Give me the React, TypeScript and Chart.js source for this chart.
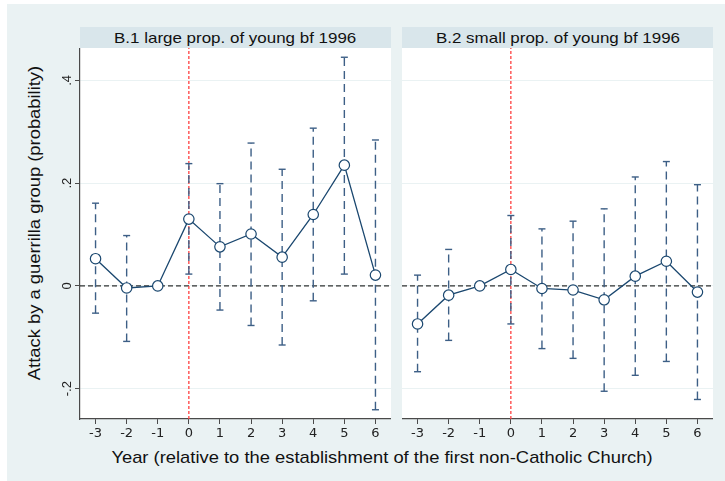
import React, { useEffect, useRef } from "react";
import { Chart, registerables } from "chart.js";

Chart.register(...registerables);

// ---- data ----
const years = [-3, -2, -1, 0, 1, 2, 3, 4, 5, 6];
const xTickLabels = ["-3", "-2", "-1", "0", "1", "2", "3", "4", "5", "6"];
const yTickValues = [-0.2, 0, 0.2, 0.4];
const yTickLabels = ["-.2", "0", ".2", ".4"];

const b1Coef = [0.053, -0.004, 0, 0.13, 0.076, 0.101, 0.056, 0.139, 0.235, 0.021];
const b1Upper = [0.161, 0.098, null, 0.238, 0.199, 0.278, 0.227, 0.307, 0.445, 0.284];
const b1Lower = [-0.053, -0.108, null, 0.023, -0.047, -0.077, -0.115, -0.029, 0.023, -0.241];

const b2Coef = [-0.074, -0.018, 0, 0.032, -0.005, -0.008, -0.027, 0.019, 0.048, -0.012];
const b2Upper = [0.021, 0.071, null, 0.137, 0.111, 0.126, 0.15, 0.212, 0.242, 0.197];
const b2Lower = [-0.167, -0.106, null, -0.074, -0.122, -0.141, -0.205, -0.174, -0.147, -0.221];

const panelTitles = ["B.1 large prop. of young bf 1996", "B.2 small prop. of young bf 1996"];
const yTitle = "Attack by a guerrilla group (probability)";
const xTitle = "Year (relative to the establishment of the first non-Catholic Church)";

const X_MIN = -3.5;
const X_MAX = 6.5;
const Y_MIN = -0.259;
const Y_MAX = 0.463;

const FONT = "'Liberation Sans', Arial, Helvetica, sans-serif";
const TICK_FONT = "'DejaVu Sans', 'Liberation Sans', sans-serif";
const BG = "#eaf2f3";
const STRIP = "#d9e6eb";
const NAVY = "#1a476f";
const CI_COLOR = "#3d5f86";
const AXIS = "#4a4a4a";

const plotBg = {
  id: "plotBg",
  beforeDraw(chart: any) {
    const { ctx, chartArea: a } = chart;
    ctx.save();
    ctx.fillStyle = "#ffffff";
    ctx.fillRect(a.left, a.top, a.right - a.left, a.bottom - a.top);
    ctx.restore();
  },
};

function noPad(s: any) {
  s.paddingLeft = 0;
  s.paddingRight = 0;
  s.paddingTop = 0;
  s.paddingBottom = 0;
}

function Panel(props: {
  coef: number[];
  upper: (number | null)[];
  lower: (number | null)[];
  showY: boolean;
  width: number;
  height: number;
  style: React.CSSProperties;
}) {
  const ref = useRef<HTMLCanvasElement>(null);
  useEffect(() => {
    const { coef, upper, lower, showY } = props;
    const ciData: any[] = [];
    years.forEach((x, i) => {
      if (upper[i] !== null && lower[i] !== null) {
        ciData.push({ x, y: lower[i] });
        ciData.push({ x, y: upper[i] });
      }
      ciData.push({ x, y: null });
    });
    const chart = new Chart(ref.current as HTMLCanvasElement, {
      type: "scatter",
      data: {
        datasets: [
          {
            data: years.map((x, i) => ({ x, y: coef[i] })),
            showLine: true,
            borderColor: NAVY,
            borderWidth: 1.3,
            pointRadius: 5.2,
            pointBackgroundColor: "#ffffff",
            pointBorderColor: NAVY,
            pointBorderWidth: 1.2,
            order: 1,
          },
          {
            data: ciData,
            showLine: true,
            spanGaps: false,
            borderColor: CI_COLOR,
            borderWidth: 1.4,
            borderDash: [8, 5],
            pointStyle: "line",
            pointRadius: 3.5,
            pointBorderColor: CI_COLOR,
            pointBorderWidth: 1.4,
            order: 2,
          },
          {
            data: [
              { x: 0, y: Y_MIN },
              { x: 0, y: Y_MAX },
            ],
            showLine: true,
            borderColor: "#ff4040",
            borderWidth: 1.3,
            borderDash: [3, 2],
            pointRadius: 0,
            order: 3,
          },
          {
            data: [
              { x: X_MIN, y: 0 },
              { x: X_MAX, y: 0 },
            ],
            showLine: true,
            borderColor: "#000000",
            borderWidth: 1,
            borderDash: [5, 3],
            pointRadius: 0,
            order: 4,
          },
        ],
      },
      options: {
        animation: false,
        responsive: false,
        devicePixelRatio: 1,
        events: [],
        layout: { padding: 0, autoPadding: false },
        plugins: {
          legend: { display: false },
          tooltip: { enabled: false },
          title: { display: false },
        },
        scales: {
          x: {
            type: "linear",
            min: X_MIN,
            max: X_MAX,
            afterBuildTicks: (s: any) => {
              s.ticks = years.map((v) => ({ value: v }));
            },
            afterFit: (s: any) => {
              s.height = 26;
              noPad(s);
            },
            ticks: {
              autoSkip: false,
              maxRotation: 0,
              minRotation: 0,
              padding: 2,
              color: "#222",
              font: { family: TICK_FONT, size: 13 },
              callback: (v: any) => xTickLabels[years.indexOf(Number(v))],
            },
            grid: {
              display: true,
              drawOnChartArea: false,
              drawTicks: true,
              tickLength: 5,
              tickColor: AXIS,
              tickWidth: 1,
            },
            border: { display: true, color: AXIS, width: 1.2 },
          },
          y: {
            type: "linear",
            min: Y_MIN,
            max: Y_MAX,
            afterBuildTicks: (s: any) => {
              s.ticks = yTickValues.map((v) => ({ value: v }));
            },
            afterFit: (s: any) => {
              s.width = showY ? 30 : 0;
              noPad(s);
            },
            ticks: {
              display: showY,
              minRotation: 90,
              maxRotation: 90,
              crossAlign: "center",
              padding: 0,
              color: "#222",
              font: { family: FONT, size: 13 },
              callback: (v: any) => yTickLabels[yTickValues.indexOf(Number(v))],
            },
            grid: {
              color: BG,
              lineWidth: 1,
              drawTicks: showY,
              tickLength: 5,
              tickColor: AXIS,
              tickWidth: 1,
            },
            border: { display: showY, color: AXIS, width: 1.2 },
          },
        },
      } as any,
      plugins: [plotBg],
    });
    return () => chart.destroy();
  }, []);
  return <canvas ref={ref} width={props.width} height={props.height} style={props.style} />;
}

export default function App() {
  const stripStyle: React.CSSProperties = {
    position: "absolute",
    top: 23,
    width: 311,
    height: 21,
    background: STRIP,
    fontFamily: FONT,
    fontSize: 15,
    lineHeight: "21px",
    textAlign: "center",
    color: "#111",
    whiteSpace: "nowrap",
  };
  const stripText: React.CSSProperties = {
    display: "inline-block",
    transform: "scaleX(1.13)",
  };
  return (
    <div
      style={{
        position: "fixed",
        left: 7,
        top: 4,
        width: 718,
        height: 477,
        background: BG,
        overflow: "hidden",
      }}
    >
      <div style={{ ...stripStyle, left: 73 }}>
        <span style={stripText}>{panelTitles[0]}</span>
      </div>
      <div style={{ ...stripStyle, left: 395 }}>
        <span style={stripText}>{panelTitles[1]}</span>
      </div>
      <Panel
        coef={b1Coef}
        upper={b1Upper}
        lower={b1Lower}
        showY={true}
        width={341}
        height={397}
        style={{ position: "absolute", left: 43, top: 44 }}
      />
      <Panel
        coef={b2Coef}
        upper={b2Upper}
        lower={b2Lower}
        showY={false}
        width={311}
        height={397}
        style={{ position: "absolute", left: 395, top: 44 }}
      />
      <div
        style={{
          position: "absolute",
          left: 28,
          top: 219,
          transform: "translate(-50%, -50%) rotate(-90deg) scaleX(1.08)",
          fontFamily: FONT,
          fontSize: 17,
          lineHeight: "20px",
          color: "#111",
          whiteSpace: "nowrap",
        }}
      >
        {yTitle}
      </div>
      <div
        style={{
          position: "absolute",
          left: 375,
          top: 454,
          transform: "translate(-50%, -50%) scaleX(1.08)",
          fontFamily: FONT,
          fontSize: 17,
          lineHeight: "20px",
          color: "#111",
          whiteSpace: "nowrap",
        }}
      >
        {xTitle}
      </div>
    </div>
  );
}
